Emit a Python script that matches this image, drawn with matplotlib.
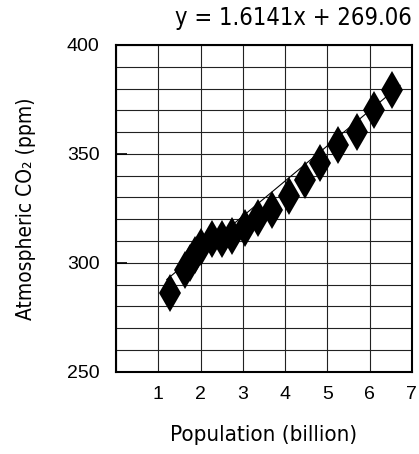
import numpy as np
import matplotlib
matplotlib.use('Agg')
import matplotlib.pyplot as plt

# data
population = [1.28, 1.63, 1.75, 1.87, 2.01, 2.27, 2.51, 2.74, 3.05, 3.36,
              3.69, 4.09, 4.47, 4.82, 5.25, 5.70, 6.10, 6.52]
co2 = [286.2, 296.8, 300.0, 303.7, 307.3, 311.0, 311.0, 312.4, 316.0, 320.6,
       324.3, 330.7, 338.1, 345.9, 354.1, 360.1, 370.2, 379.4]

# trend line as drawn on the chart
trend_x = [1.2, 6.72]
trend_slope = 16.141
trend_intercept = 273.0
equation = 'y = 1.6141x + 269.06'

x_ticks = [1, 2, 3, 4, 5, 6, 7]
y_ticks = [250, 300, 350, 400]

plt.rcParams['font.family'] = ['Liberation Sans', 'DejaVu Sans']
narrow = dict(family='DejaVu Sans', stretch='condensed')

fig = plt.figure(figsize=(4.19, 4.54), dpi=100)
ax = fig.add_axes([0.277, 0.181, 0.706, 0.720])

# grid: every 1 billion and every 10 ppm
ax.set_xticks(np.arange(0, 8, 1), minor=True)
ax.set_yticks(np.arange(250, 401, 10), minor=True)
ax.grid(True, which='both', color='#222222', linewidth=0.8)
ax.set_axisbelow(True)

# trend line
tx = np.array(trend_x)
ax.plot(tx, trend_slope * tx + trend_intercept, color='black', linewidth=0.8, zorder=2)

# points
ax.plot(population, co2, linestyle='none', marker='d', markersize=19,
        color='black', markeredgewidth=0, zorder=3)

ax.set_xlim(0, 7)
ax.set_ylim(250, 400)
ax.set_xticks(x_ticks)
ax.set_yticks(y_ticks)
ax.tick_params(axis='both', which='minor', length=0)
ax.tick_params(axis='x', length=0, pad=10, labelsize=14)
ax.tick_params(axis='y', direction='in', length=8, width=1.2, pad=12, labelsize=14)
for s in ax.spines.values():
    s.set_linewidth(1.5)

ax.set_xlabel('Population (billion)', fontsize=16, labelpad=16, **narrow)
ax.set_ylabel('Atmospheric CO\u2082 (ppm)', fontsize=15, labelpad=22, **narrow)

# equation above the plot
ax.text(1.0, 1.045, equation, transform=ax.transAxes, ha='right', va='bottom',
        fontsize=17, **narrow)

fig.savefig('out.png', dpi=100)
